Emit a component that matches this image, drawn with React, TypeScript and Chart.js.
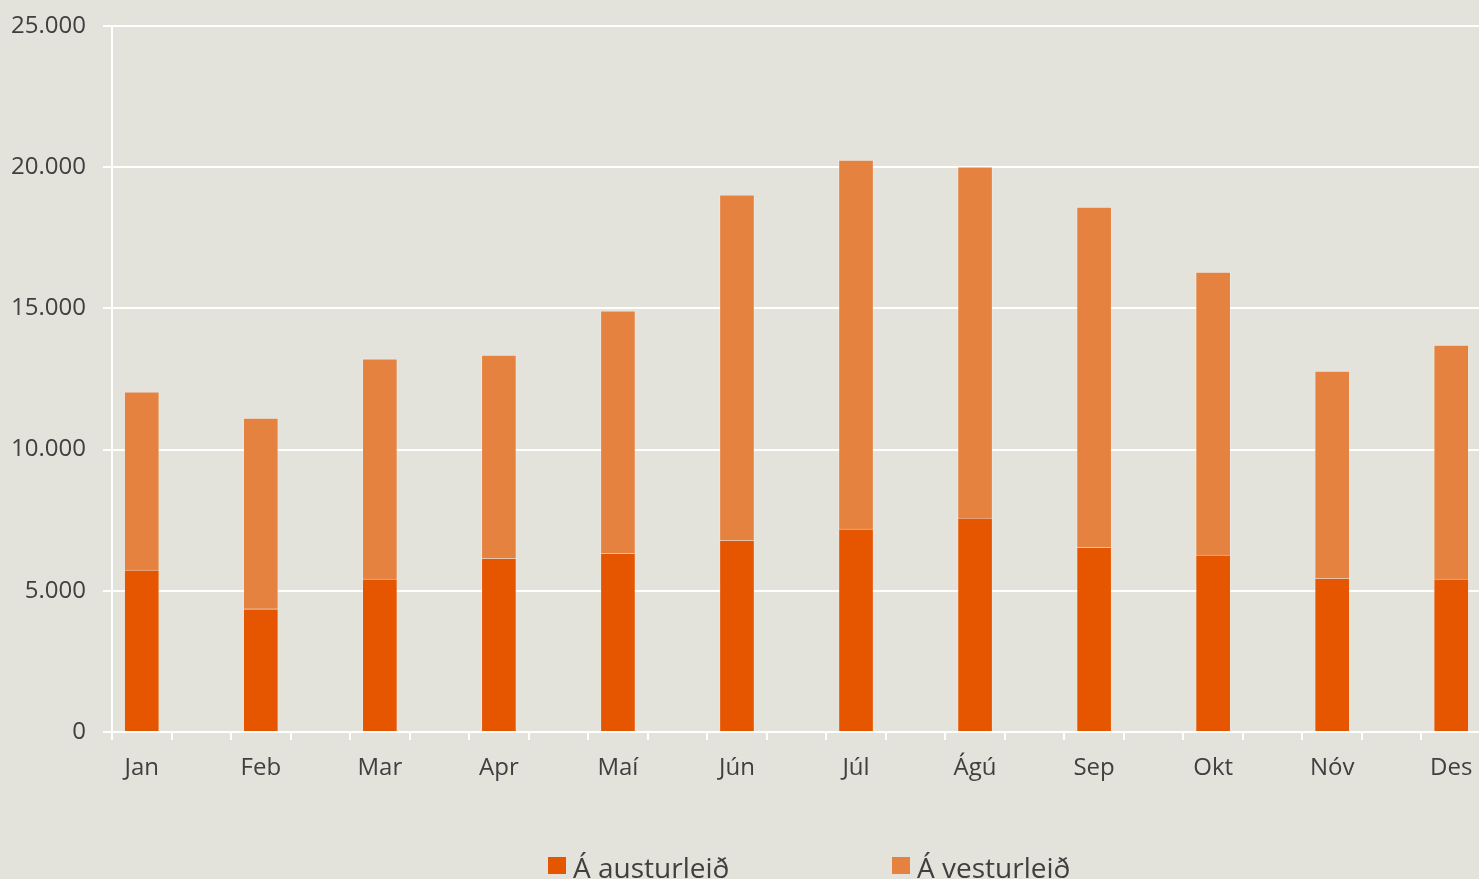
import React, { useEffect, useRef } from "react";
import { Chart, registerables } from "chart.js";

Chart.register(...registerables);

const months = ["Jan", "Feb", "Mar", "Apr", "Maí", "Jún", "Júl", "Ágú", "Sep", "Okt", "Nóv", "Des"];
const austurleid = [5740, 4360, 5420, 6160, 6340, 6800, 7190, 7580, 6550, 6270, 5450, 5420];
const vesturleid = [6310, 6760, 7790, 7190, 8570, 12220, 13060, 12430, 12040, 10020, 7330, 8280];
const seriesNames = ["Á austurleið", "Á vesturleið"];
const seriesColors = ["#E65500", "#E68240"];
const yTicks = [0, 5000, 10000, 15000, 20000, 25000];

// Interleave an empty slot between months (matches the reference's spacing)
function spread<T>(arr: T[], gap: T): T[] {
  const out: T[] = [];
  arr.forEach((v, i) => {
    out.push(v);
    if (i < arr.length - 1) out.push(gap);
  });
  return out;
}

const fmt = (v: number) => v.toString().replace(/\B(?=(\d{3})+(?!\d))/g, ".");

const FONT = "'Open Sans', sans-serif";
const TEXT = "#404040";
const BG = "#E4E3DB";

const zeroPad = (s: any) => {
  s.paddingTop = 0;
  s.paddingBottom = 0;
  s.paddingLeft = 0;
  s.paddingRight = 0;
};

export default function App() {
  const ref = useRef<HTMLCanvasElement | null>(null);

  useEffect(() => {
    if (!ref.current) return;
    const chart = new Chart(ref.current, {
      type: "bar",
      data: {
        labels: spread(months, ""),
        datasets: [
          {
            label: seriesNames[0],
            data: spread<number | null>(austurleid, null),
            backgroundColor: seriesColors[0],
            borderColor: "rgba(255,255,255,0.15)",
            borderWidth: 1,
            barThickness: 35,
          },
          {
            label: seriesNames[1],
            data: spread<number | null>(vesturleid, null),
            backgroundColor: seriesColors[1],
            borderColor: "rgba(255,255,255,0.2)",
            borderWidth: 1,
            barThickness: 35,
          },
        ],
      },
      options: {
        animation: false,
        responsive: false,
        layout: { padding: { top: 26, left: 0, right: 0, bottom: 0 } },
        plugins: {
          legend: { display: false },
          tooltip: { enabled: false },
        },
        scales: {
          x: {
            stacked: true,
            offset: true,
            grid: {
              display: true,
              drawOnChartArea: false,
              drawTicks: true,
              tickLength: 8,
              color: "#FFFFFF",
              lineWidth: 2,
              offset: true,
            },
            border: { display: true, color: "#FFFFFF", width: 2 },
            ticks: {
              autoSkip: false,
              maxRotation: 0,
              minRotation: 0,
              padding: 14,
              color: TEXT,
              font: { family: FONT, size: 24 },
            },
            afterFit: (s: any) => {
              s.height = 147;
              zeroPad(s);
            },
          },
          y: {
            stacked: true,
            min: 0,
            max: 25000,
            afterBuildTicks: (s: any) => {
              s.ticks = yTicks.map((v) => ({ value: v }));
            },
            grid: {
              color: "#FFFFFF",
              lineWidth: 2,
              tickLength: 9,
            },
            border: { display: true, color: "#FFFFFF", width: 2 },
            ticks: {
              padding: 17,
              color: TEXT,
              font: { family: FONT, size: 24 },
              callback: (v: any) => fmt(Number(v)),
            },
            afterFit: (s: any) => {
              s.width = 112;
              zeroPad(s);
            },
          },
        },
      },
    });
    return () => chart.destroy();
  }, []);

  const legendItem = (i: number, boxLeft: number) => (
    <div key={i}>
      <div
        style={{
          position: "absolute",
          left: boxLeft,
          top: 857,
          width: 18,
          height: 17,
          background: seriesColors[i],
        }}
      />
      <div
        style={{
          position: "absolute",
          left: boxLeft + 25,
          top: 849,
          fontFamily: FONT,
          fontSize: 28,
          lineHeight: "36px",
          color: TEXT,
          whiteSpace: "nowrap",
        }}
      >
        {seriesNames[i]}
      </div>
    </div>
  );

  return (
    <div
      style={{
        position: "fixed",
        left: 0,
        top: 0,
        width: 1479,
        height: 879,
        overflow: "hidden",
        background: BG,
      }}
    >
      <canvas ref={ref} width={1481} height={879} style={{ display: "block" }} />
      {legendItem(0, 548)}
      {legendItem(1, 892)}
    </div>
  );
}
